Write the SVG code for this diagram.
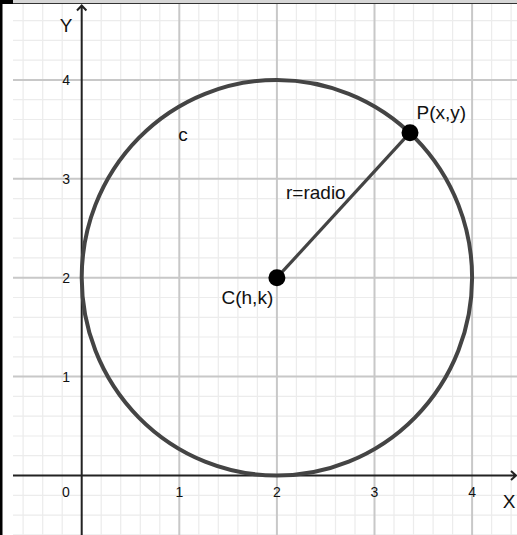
<svg xmlns="http://www.w3.org/2000/svg" width="517" height="535" viewBox="0 0 517 535">
<style>
.minor{stroke:#ececec;stroke-width:1.2;fill:none}
.major{stroke:#c8c8c8;stroke-width:2;fill:none}
.axis{stroke:#222;stroke-width:2;fill:none}
.tick{font-family:"Liberation Sans",Arial,sans-serif;font-size:14px;fill:#111}
.lbl{font-family:"Liberation Sans",Arial,sans-serif;font-size:19px;fill:#111}
.shape{stroke:#444;fill:none}
</style>
<rect x="0" y="0" width="517" height="535" fill="#fff"/>
<g id="grid">
<path class="minor" d="M23.1 4V535M42.7 4V535M62.2 4V535M101.2 4V535M120.7 4V535M140.3 4V535M159.8 4V535M198.8 4V535M218.3 4V535M237.9 4V535M257.4 4V535M296.4 4V535M315.9 4V535M335.5 4V535M355 4V535M394 4V535M413.5 4V535M433.1 4V535M452.6 4V535M491.6 4V535M511.1 4V535"/>
<path class="minor" d="M13 534.8H517M13 515.1H517M13 495.3H517M13 455.7H517M13 436H517M13 416.2H517M13 396.4H517M13 356.8H517M13 337H517M13 317.3H517M13 297.5H517M13 257.9H517M13 238.1H517M13 218.4H517M13 198.6H517M13 159H517M13 139.2H517M13 119.5H517M13 99.7H517M13 60.1H517M13 40.3H517M13 20.6H517"/>
<path class="major" d="M179.3 4V535M276.9 4V535M374.5 4V535M472.1 4V535M13 376.6H517M13 277.7H517M13 178.8H517M13 79.9H517"/>
</g>
<g id="axes">
<path class="axis" d="M13 475.5H516M511 471L516 475.5L511 480"/>
<path class="axis" d="M81.7 535V5.5M77 10.5L81.7 5.5L86.4 10.5"/>
<text class="lbl" x="66" y="32" text-anchor="middle">Y</text>
<text class="lbl" x="509" y="508" text-anchor="middle">X</text>
</g>
<g id="ticks">
<text class="tick" x="66" y="497" text-anchor="middle">0</text>
<text class="tick" x="179.3" y="497" text-anchor="middle">1</text>
<text class="tick" x="276.9" y="497" text-anchor="middle">2</text>
<text class="tick" x="374.5" y="497" text-anchor="middle">3</text>
<text class="tick" x="472.1" y="497" text-anchor="middle">4</text>
<text class="tick" x="70" y="381.6" text-anchor="end">1</text>
<text class="tick" x="70" y="282.7" text-anchor="end">2</text>
<text class="tick" x="70" y="183.8" text-anchor="end">3</text>
<text class="tick" x="70" y="84.9" text-anchor="end">4</text>
</g>
<g id="circle-c">
<ellipse class="shape" cx="276.9" cy="277.7" rx="195.2" ry="197.8" stroke-width="4"/>
<text class="lbl" x="183" y="141" text-anchor="middle" font-size="17">c</text>
</g>
<g id="connectors">
<line id="radius" class="shape" x1="276.9" y1="277.7" x2="410" y2="132.7" stroke-width="3.2"/>
<text class="lbl" x="286" y="199">r=radio</text>
</g>
<g id="point-C">
<circle cx="276.9" cy="277.7" r="8.5" fill="#000"/>
<text class="lbl" x="221.5" y="303.5">C(h,k)</text>
</g>
<g id="point-P">
<circle cx="410" cy="132.7" r="8.5" fill="#000"/>
<text class="lbl" x="416.5" y="119">P(x,y)</text>
</g>
<g id="frame">
<rect x="0" y="0" width="517" height="3" fill="#d6d6d6"/>
<rect x="0" y="3" width="517" height="1" fill="#333"/>
<rect x="0" y="0" width="13" height="4" fill="#000"/>
<rect x="0" y="0" width="2.5" height="535" fill="#000"/>
</g>
</svg>
